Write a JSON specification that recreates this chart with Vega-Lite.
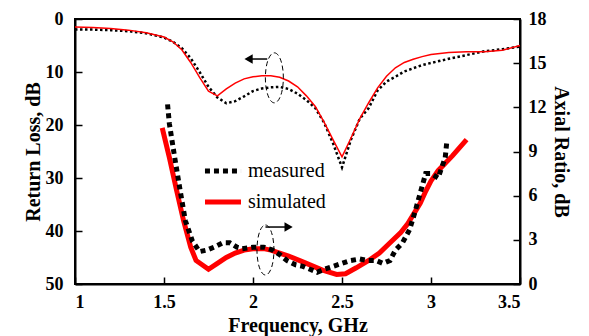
{
  "$schema": "https://vega.github.io/schema/vega-lite/v6.json",
  "width": 445,
  "height": 265,
  "autosize": {"type": "none"},
  "padding": {"left": 75, "top": 19, "right": 69, "bottom": 52},
  "background": "white",
  "config": {
    "view": {"stroke": "black", "strokeWidth": 2},
    "font": "Liberation Serif",
    "axis": {
      "domainColor": "black", "domainWidth": 2,
      "tickColor": "black", "tickWidth": 1.5, "tickSize": -7,
      "labelColor": "black", "labelFont": "Liberation Serif", "labelFontSize": 18, "labelFontWeight": "bold",
      "titleFont": "Liberation Serif", "titleFontSize": 20, "titleFontWeight": "bold", "titleColor": "black",
      "grid": false
    },
    "legend": {
      "labelFont": "Liberation Serif", "labelFontSize": 20, "labelColor": "black"
    }
  },
  "datasets": {
    "rlMeas": [
      {"f": 1.0, "v": 2.0, "s": "measured"}, {"f": 1.1, "v": 2.0, "s": "measured"}, {"f": 1.2, "v": 2.1, "s": "measured"},
      {"f": 1.3, "v": 2.3, "s": "measured"}, {"f": 1.4, "v": 2.7, "s": "measured"}, {"f": 1.5, "v": 3.5, "s": "measured"},
      {"f": 1.55, "v": 4.3, "s": "measured"}, {"f": 1.6, "v": 5.5, "s": "measured"}, {"f": 1.65, "v": 7.4, "s": "measured"},
      {"f": 1.7, "v": 10.0, "s": "measured"}, {"f": 1.75, "v": 12.8, "s": "measured"}, {"f": 1.8, "v": 14.8, "s": "measured"},
      {"f": 1.85, "v": 15.9, "s": "measured"}, {"f": 1.9, "v": 15.5, "s": "measured"}, {"f": 1.95, "v": 14.6, "s": "measured"},
      {"f": 2.0, "v": 13.6, "s": "measured"}, {"f": 2.05, "v": 13.1, "s": "measured"}, {"f": 2.1, "v": 12.9, "s": "measured"},
      {"f": 2.15, "v": 12.8, "s": "measured"}, {"f": 2.2, "v": 13.2, "s": "measured"}, {"f": 2.25, "v": 14.1, "s": "measured"},
      {"f": 2.3, "v": 15.3, "s": "measured"}, {"f": 2.35, "v": 16.8, "s": "measured"}, {"f": 2.4, "v": 19.6, "s": "measured"},
      {"f": 2.45, "v": 23.5, "s": "measured"}, {"f": 2.5, "v": 28.0, "s": "measured"}, {"f": 2.55, "v": 22.8, "s": "measured"},
      {"f": 2.6, "v": 18.8, "s": "measured"}, {"f": 2.65, "v": 16.8, "s": "measured"}, {"f": 2.7, "v": 13.5, "s": "measured"},
      {"f": 2.75, "v": 11.8, "s": "measured"}, {"f": 2.8, "v": 10.9, "s": "measured"}, {"f": 2.85, "v": 9.9, "s": "measured"},
      {"f": 2.9, "v": 9.3, "s": "measured"}, {"f": 2.95, "v": 8.7, "s": "measured"}, {"f": 3.0, "v": 8.3, "s": "measured"},
      {"f": 3.1, "v": 7.5, "s": "measured"}, {"f": 3.2, "v": 6.8, "s": "measured"}, {"f": 3.3, "v": 6.1, "s": "measured"},
      {"f": 3.4, "v": 5.7, "s": "measured"}, {"f": 3.5, "v": 5.2, "s": "measured"}
    ],
    "rlSim": [
      {"f": 1.0, "v": 1.5, "s": "simulated"}, {"f": 1.1, "v": 1.6, "s": "simulated"}, {"f": 1.2, "v": 1.8, "s": "simulated"},
      {"f": 1.3, "v": 2.1, "s": "simulated"}, {"f": 1.4, "v": 2.6, "s": "simulated"}, {"f": 1.5, "v": 3.4, "s": "simulated"},
      {"f": 1.55, "v": 4.3, "s": "simulated"}, {"f": 1.6, "v": 5.8, "s": "simulated"}, {"f": 1.65, "v": 8.2, "s": "simulated"},
      {"f": 1.7, "v": 11.0, "s": "simulated"}, {"f": 1.75, "v": 13.6, "s": "simulated"}, {"f": 1.8, "v": 14.5, "s": "simulated"},
      {"f": 1.85, "v": 13.2, "s": "simulated"}, {"f": 1.9, "v": 12.1, "s": "simulated"}, {"f": 1.95, "v": 11.3, "s": "simulated"},
      {"f": 2.0, "v": 10.9, "s": "simulated"}, {"f": 2.05, "v": 10.7, "s": "simulated"}, {"f": 2.1, "v": 10.7, "s": "simulated"},
      {"f": 2.15, "v": 11.0, "s": "simulated"}, {"f": 2.2, "v": 11.7, "s": "simulated"}, {"f": 2.25, "v": 12.8, "s": "simulated"},
      {"f": 2.3, "v": 14.5, "s": "simulated"}, {"f": 2.35, "v": 16.5, "s": "simulated"}, {"f": 2.4, "v": 19.5, "s": "simulated"},
      {"f": 2.45, "v": 22.8, "s": "simulated"}, {"f": 2.5, "v": 26.0, "s": "simulated"}, {"f": 2.55, "v": 22.5, "s": "simulated"},
      {"f": 2.6, "v": 18.8, "s": "simulated"}, {"f": 2.65, "v": 15.8, "s": "simulated"}, {"f": 2.7, "v": 13.0, "s": "simulated"},
      {"f": 2.75, "v": 10.8, "s": "simulated"}, {"f": 2.8, "v": 9.2, "s": "simulated"}, {"f": 2.85, "v": 8.2, "s": "simulated"},
      {"f": 2.9, "v": 7.6, "s": "simulated"}, {"f": 2.95, "v": 7.1, "s": "simulated"}, {"f": 3.0, "v": 6.7, "s": "simulated"},
      {"f": 3.1, "v": 6.3, "s": "simulated"}, {"f": 3.2, "v": 6.2, "s": "simulated"}, {"f": 3.3, "v": 6.2, "s": "simulated"},
      {"f": 3.4, "v": 5.9, "s": "simulated"}, {"f": 3.5, "v": 5.0, "s": "simulated"}
    ],
    "arSim": [
      {"f": 1.49, "v": 10.6}, {"f": 1.53, "v": 8.6}, {"f": 1.57, "v": 6.4}, {"f": 1.61, "v": 4.3}, {"f": 1.65, "v": 2.5},
      {"f": 1.68, "v": 1.6}, {"f": 1.75, "v": 1.0}, {"f": 1.8, "v": 1.4}, {"f": 1.85, "v": 1.8}, {"f": 1.9, "v": 2.1},
      {"f": 1.95, "v": 2.3}, {"f": 2.0, "v": 2.4}, {"f": 2.06, "v": 2.4}, {"f": 2.1, "v": 2.3}, {"f": 2.15, "v": 2.1},
      {"f": 2.2, "v": 1.9}, {"f": 2.28, "v": 1.5}, {"f": 2.35, "v": 1.15}, {"f": 2.4, "v": 0.9}, {"f": 2.47, "v": 0.65},
      {"f": 2.52, "v": 0.7}, {"f": 2.58, "v": 1.1}, {"f": 2.65, "v": 1.6}, {"f": 2.71, "v": 2.1}, {"f": 2.77, "v": 2.8},
      {"f": 2.83, "v": 3.5}, {"f": 2.87, "v": 4.1}, {"f": 2.91, "v": 4.9}, {"f": 2.94, "v": 5.5}, {"f": 2.97, "v": 6.3},
      {"f": 3.0, "v": 7.0}, {"f": 3.04, "v": 7.7}, {"f": 3.08, "v": 8.2}, {"f": 3.12, "v": 8.7}, {"f": 3.2, "v": 9.8}
    ],
    "arMeas": [
      {"f": 1.52, "v": 12.2}, {"f": 1.53, "v": 10.9}, {"f": 1.56, "v": 8.6}, {"f": 1.59, "v": 6.4}, {"f": 1.62, "v": 4.3},
      {"f": 1.66, "v": 2.9}, {"f": 1.7, "v": 2.2}, {"f": 1.74, "v": 2.3}, {"f": 1.78, "v": 2.5}, {"f": 1.83, "v": 2.8},
      {"f": 1.87, "v": 2.8}, {"f": 1.91, "v": 2.5}, {"f": 1.94, "v": 2.4}, {"f": 2.0, "v": 2.5}, {"f": 2.06, "v": 2.5},
      {"f": 2.11, "v": 2.3}, {"f": 2.15, "v": 2.0}, {"f": 2.19, "v": 1.6}, {"f": 2.24, "v": 1.3}, {"f": 2.28, "v": 1.2},
      {"f": 2.32, "v": 1.0}, {"f": 2.36, "v": 0.8}, {"f": 2.4, "v": 1.0}, {"f": 2.45, "v": 1.2}, {"f": 2.5, "v": 1.4},
      {"f": 2.55, "v": 1.6}, {"f": 2.6, "v": 1.7}, {"f": 2.64, "v": 1.6}, {"f": 2.69, "v": 1.6}, {"f": 2.73, "v": 1.4},
      {"f": 2.77, "v": 1.6}, {"f": 2.8, "v": 2.3}, {"f": 2.84, "v": 2.8}, {"f": 2.88, "v": 3.7}, {"f": 2.91, "v": 4.9},
      {"f": 2.94, "v": 6.2}, {"f": 2.97, "v": 7.5}, {"f": 3.0, "v": 7.5}, {"f": 3.04, "v": 7.2}, {"f": 3.06, "v": 7.9},
      {"f": 3.08, "v": 8.6}, {"f": 3.09, "v": 9.8}
    ],
    "rlEllipse": [{"f": 2.12, "v": 11.1}],
    "rlArrow": [{"f": 1.99, "f2": 2.08, "v": 7.55}],
    "rlHead": [{"f": 1.975, "v": 7.55}],
    "arEllipse": [{"f": 2.07, "v": 2.31}],
    "arArrow": [{"f": 2.07, "f2": 2.18, "v": 3.87}],
    "arHead": [{"f": 2.2, "v": 3.87}]
  },
  "encoding": {
    "x": {
      "field": "f", "type": "quantitative",
      "scale": {"domain": [1, 3.5], "nice": false, "zero": false},
      "axis": {"values": [1, 1.5, 2, 2.5, 3, 3.5], "format": "~g", "title": "Frequency, GHz", "labelPadding": 16, "titlePadding": 4}
    }
  },
  "layer": [
    {
      "encoding": {
        "y": {
          "field": "v", "type": "quantitative",
          "scale": {"domain": [0, 50], "reverse": true, "nice": false, "zero": false},
          "axis": {"orient": "left", "values": [0, 10, 20, 30, 40, 50], "title": "Return Loss, dB", "labelPadding": 19, "titlePadding": 2}
        }
      },
      "layer": [
        {
          "data": {"name": "rlMeas"},
          "mark": {"type": "line", "strokeWidth": 2.5, "strokeDash": [2.5, 2.5], "strokeCap": "butt"},
          "encoding": {
            "color": {
              "field": "s", "type": "nominal",
              "scale": {"domain": ["measured", "simulated"], "range": ["black", "#ff0000"]},
              "legend": {
                "title": null, "orient": "none", "legendX": 127, "legendY": 131,
                "symbolType": "stroke", "symbolSize": 1300, "symbolStrokeWidth": 5,
                "rowPadding": -4, "labelOffset": 4,
                "encode": {"symbols": {"update": {"strokeDash": {"signal": "datum.value == 'measured' ? [5, 4] : [1, 0]"}, "strokeWidth": {"value": 5}}}}
              }
            }
          }
        },
        {
          "data": {"name": "rlSim"},
          "mark": {"type": "line", "strokeWidth": 1.5},
          "encoding": {"color": {"field": "s", "type": "nominal"}}
        },
        {
          "data": {"name": "rlEllipse"},
          "mark": {"type": "point", "shape": "M0,-1A0.36,1 0 1,1 0,1A0.36,1 0 1,1 0,-1Z", "size": 2500, "filled": false, "stroke": "black", "strokeWidth": 1, "strokeDash": [5, 3], "opacity": 1}
        },
        {
          "data": {"name": "rlArrow"},
          "mark": {"type": "rule", "stroke": "black", "strokeWidth": 1.5},
          "encoding": {"x2": {"field": "f2"}}
        },
        {
          "data": {"name": "rlHead"},
          "mark": {"type": "point", "shape": "triangle-left", "size": 90, "filled": true, "color": "black", "opacity": 1}
        }
      ]
    },
    {
      "encoding": {
        "y": {
          "field": "v", "type": "quantitative",
          "scale": {"domain": [0, 18], "nice": false, "zero": false},
          "axis": {"orient": "right", "values": [0, 3, 6, 9, 12, 15, 18], "title": "Axial Ratio, dB", "labelPadding": 15, "titlePadding": 4}
        }
      },
      "layer": [
        {
          "data": {"name": "arSim"},
          "mark": {"type": "line", "strokeWidth": 5, "color": "#ff0000"}
        },
        {
          "data": {"name": "arMeas"},
          "mark": {"type": "line", "strokeWidth": 5, "strokeDash": [5, 4], "strokeCap": "butt", "color": "black"}
        },
        {
          "data": {"name": "arEllipse"},
          "mark": {"type": "point", "shape": "M0,-1A0.34,1 0 1,1 0,1A0.34,1 0 1,1 0,-1Z", "size": 2500, "filled": false, "stroke": "black", "strokeWidth": 1, "strokeDash": [5, 3], "opacity": 1}
        },
        {
          "data": {"name": "arArrow"},
          "mark": {"type": "rule", "stroke": "black", "strokeWidth": 1.5},
          "encoding": {"x2": {"field": "f2"}}
        },
        {
          "data": {"name": "arHead"},
          "mark": {"type": "point", "shape": "triangle-right", "size": 90, "filled": true, "color": "black", "opacity": 1}
        }
      ]
    }
  ],
  "resolve": {"scale": {"y": "independent"}}
}
